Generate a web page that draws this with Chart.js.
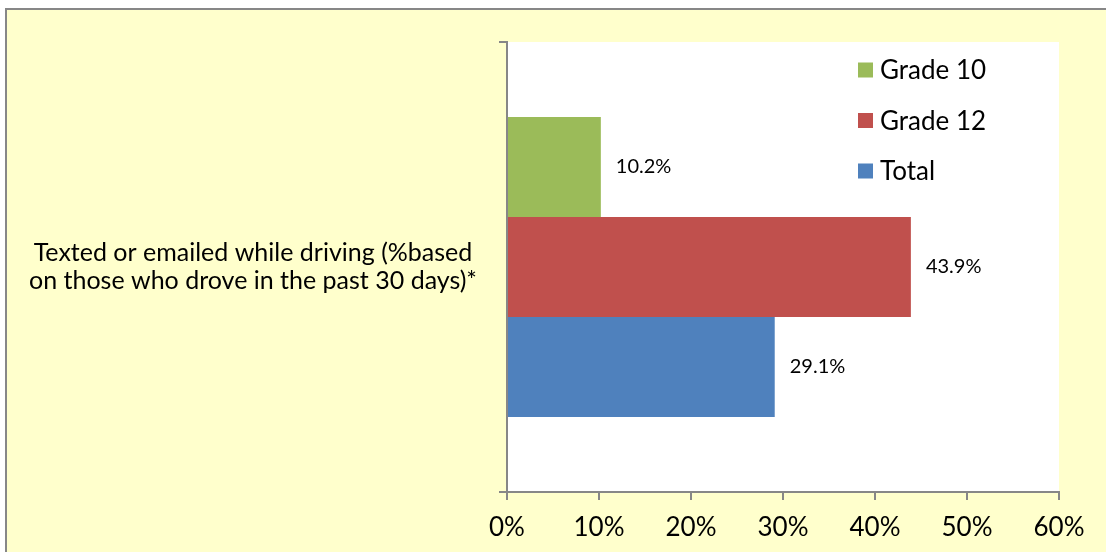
<!DOCTYPE html>
<html>
<head>
<meta charset="utf-8">
<script src="https://cdn.jsdelivr.net/npm/chart.js@4.4.1/dist/chart.umd.min.js"></script>
<style>
  html, body { margin: 0; padding: 0; background: #ffffff; }
  #wrap { position: relative; width: 1106px; height: 552px; }
</style>
</head>
<body>
<div id="wrap"><canvas id="c" width="1106" height="552"></canvas></div>
<script>
// ---- data ----
const categories = [["Texted or emailed while driving (%based", "on those who drove in the past 30 days)*"]];
const seriesNames = ["Grade 10", "Grade 12", "Total"];
const grade10 = [10.2];
const grade12 = [43.9];
const total = [29.1];
const xTicks = [0, 10, 20, 30, 40, 50, 60];
const seriesColors = ["#9BBB59", "#C0504D", "#4F81BD"];

const FONT = "Lato, 'Open Sans', 'Liberation Sans', sans-serif";

const bgPlugin = {
  id: 'bg',
  beforeDraw(chart) {
    const ctx = chart.ctx;
    ctx.save();
    ctx.fillStyle = '#ffffff';
    ctx.fillRect(0, 0, chart.width, chart.height);
    ctx.fillStyle = '#FFFFCC';
    ctx.fillRect(6, 9, chart.width, chart.height);
    ctx.strokeStyle = '#878787';
    ctx.lineWidth = 2;
    ctx.strokeRect(6, 9, chart.width + 20, chart.height + 20);
    const a = chart.chartArea;
    ctx.fillStyle = '#ffffff';
    ctx.fillRect(a.left, a.top, a.right - a.left, a.bottom - a.top);
    ctx.restore();
  }
};

const labelPlugin = {
  id: 'vals',
  afterDatasetsDraw(chart) {
    const ctx = chart.ctx;
    ctx.save();
    ctx.font = "20px " + FONT;
    ctx.fillStyle = '#000000';
    ctx.textAlign = 'left';
    ctx.textBaseline = 'middle';
    chart.data.datasets.forEach((ds, i) => {
      const meta = chart.getDatasetMeta(i);
      meta.data.forEach((el, j) => {
        ctx.fillText(ds.data[j].toFixed(1) + '%', el.x + 15, el.y);
      });
    });
    ctx.restore();
  }
};

const legendPlugin = {
  id: 'legendIn',
  afterDraw(chart) {
    const ctx = chart.ctx;
    ctx.save();
    ctx.font = "26px " + FONT;
    ctx.textAlign = 'left';
    ctx.textBaseline = 'middle';
    chart.data.datasets.forEach((ds, i) => {
      const cy = 70 + i * 50.5;
      ctx.fillStyle = ds.backgroundColor;
      ctx.fillRect(858, cy - 7.5, 15, 15);
      ctx.fillStyle = '#000000';
      ctx.fillText(ds.label, 880, cy + 1);
    });
    ctx.restore();
  }
};

new Chart(document.getElementById('c'), {
  type: 'bar',
  data: {
    labels: categories,
    datasets: [
      { label: seriesNames[0], data: grade10, backgroundColor: seriesColors[0] },
      { label: seriesNames[1], data: grade12, backgroundColor: seriesColors[1] },
      { label: seriesNames[2], data: total, backgroundColor: seriesColors[2] }
    ]
  },
  options: {
    indexAxis: 'y',
    responsive: false,
    animation: false,
    devicePixelRatio: 1,
    layout: { padding: { top: 42, right: 47, left: 0, bottom: 0 } },
    datasets: { bar: { categoryPercentage: 2/3, barPercentage: 1.0 } },
    plugins: { legend: { display: false }, tooltip: { enabled: false } },
    scales: {
      x: {
        min: 0, max: 60,
        afterBuildTicks(scale) { scale.ticks = xTicks.map(v => ({ value: v })); },
        afterFit(scale) { scale.height = 60; },
        ticks: {
          color: '#000000',
          font: { family: FONT, size: 26 },
          padding: 12,
          callback: (v) => v + '%'
        },
        grid: { drawOnChartArea: false, color: '#878787', tickLength: 8, lineWidth: 2 },
        border: { color: '#878787', width: 2 }
      },
      y: {
        afterFit(scale) { scale.width = 507; scale.paddingTop = 0; scale.paddingBottom = 0; },
        ticks: {
          color: '#000000',
          font: { family: FONT, size: 25, lineHeight: 1.15 },
          crossAlign: 'center',
          padding: 22
        },
        grid: { offset: true, drawOnChartArea: false, color: '#878787', tickLength: 8, lineWidth: 2 },
        border: { color: '#878787', width: 2 }
      }
    }
  },
  plugins: [bgPlugin, labelPlugin, legendPlugin]
});
</script>
</body>
</html>
